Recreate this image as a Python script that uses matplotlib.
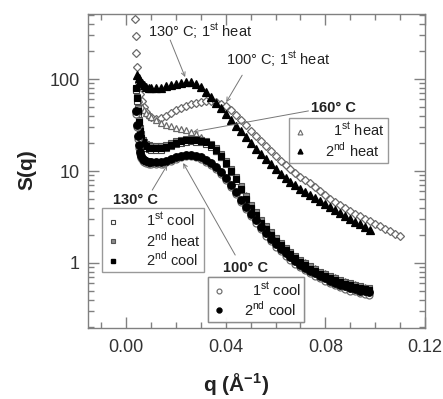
import matplotlib
matplotlib.use("Agg")
import matplotlib.pyplot as plt
from matplotlib.lines import Line2D
from matplotlib.ticker import FixedLocator, MultipleLocator, LogLocator, NullFormatter

plt.rcParams['font.family'] = ['Liberation Sans', 'DejaVu Sans']
plt.rcParams['mathtext.fontset'] = 'custom'
plt.rcParams['mathtext.rm'] = 'Liberation Sans'
plt.rcParams['mathtext.bf'] = 'Liberation Sans:bold'

# ---- data: q (1/A), S(q) ----
# 100 C, 1st heat (open diamonds)
q_d = [0.0036, 0.0038, 0.0040, 0.0044, 0.0050, 0.0056, 0.0062, 0.0070, 0.0080, 0.0090, 0.0100,
       0.012, 0.014, 0.016, 0.018, 0.020, 0.022, 0.024, 0.026, 0.028, 0.030,
       0.032, 0.034, 0.036, 0.038, 0.040, 0.042, 0.044, 0.046, 0.048, 0.050,
       0.052, 0.054, 0.056, 0.058, 0.060, 0.062, 0.064, 0.066, 0.068, 0.070,
       0.072, 0.074, 0.076, 0.078, 0.080, 0.082, 0.084, 0.086, 0.088, 0.090,
       0.092, 0.094, 0.096, 0.098, 0.100, 0.102, 0.104, 0.106, 0.108, 0.110]
s_d = [450, 290, 190, 135, 90, 68, 57, 50, 44, 40, 38.5,
       37, 37.5, 39.5, 42.5, 45.5, 48.5, 51.5, 54, 55.5, 56.5,
       57, 57, 56, 54, 51, 46, 41, 36, 31.5, 27.5,
       24, 21, 18.5, 16.3, 14.5, 12.9, 11.6, 10.5, 9.5, 8.7,
       8.0, 7.35, 6.7, 6.05, 5.45, 5.0, 4.6, 4.25, 3.95, 3.7,
       3.45, 3.22, 3.02, 2.83, 2.66, 2.5, 2.35, 2.2, 2.07, 1.95]

# 160 C, 1st heat (open triangles)
q_t1 = [0.0044, 0.0050, 0.0056, 0.0062, 0.0070, 0.0080, 0.0090, 0.0100,
        0.012, 0.014, 0.016, 0.018, 0.020, 0.022, 0.024, 0.026, 0.028, 0.030,
        0.032, 0.034, 0.036, 0.038, 0.040, 0.044, 0.048, 0.052, 0.056, 0.060,
        0.064, 0.068, 0.072, 0.076, 0.080, 0.084, 0.088, 0.092, 0.096]
s_t1 = [70, 60, 54, 50, 46, 43, 40.5, 38.5,
        35.5, 33.3, 31.8, 30.6, 29.6, 28.6, 27.6, 26.5, 25.1, 23.3,
        21.0, 18.6, 16.3, 14.2, 12.4, 8.6, 5.5, 3.6, 2.5, 1.85,
        1.45, 1.2, 1.02, 0.88, 0.78, 0.7, 0.64, 0.59, 0.55]

# 160 C, 2nd heat (filled triangles) - top curve
q_t2 = [0.0044, 0.0050, 0.0056, 0.0062, 0.0070, 0.0080, 0.0090, 0.0100,
        0.012, 0.014, 0.016, 0.018, 0.020, 0.022, 0.024, 0.026, 0.028, 0.030,
        0.032, 0.034, 0.036, 0.038, 0.040, 0.042, 0.044, 0.046, 0.048, 0.050,
        0.052, 0.054, 0.056, 0.058, 0.060, 0.062, 0.064, 0.066, 0.068, 0.070,
        0.072, 0.074, 0.076, 0.078, 0.080, 0.082, 0.084, 0.086, 0.088, 0.090,
        0.092, 0.094, 0.096, 0.098]
s_t2 = [110, 102, 95, 90, 86, 82, 80, 79,
        79, 80.5, 83, 86, 89, 91.5, 93, 92, 88, 81,
        72, 63, 55, 48, 41.5, 36, 31, 27, 23.5, 20.2,
        17.5, 15.3, 13.4, 11.8, 10.4, 9.3, 8.4, 7.6, 7.0, 6.45,
        5.95, 5.5, 5.1, 4.7, 4.35, 4.05, 3.75, 3.5, 3.25, 3.02,
        2.82, 2.63, 2.45, 2.28]

# lower curves (130 C squares, 100 C circles)
q_lo = [0.0040, 0.0044, 0.0048, 0.0052, 0.0056, 0.0060, 0.0066, 0.0072, 0.0080, 0.0090, 0.0100,
        0.012, 0.014, 0.016, 0.018, 0.020, 0.022, 0.024, 0.026, 0.028, 0.030,
        0.032, 0.034, 0.036, 0.038, 0.040, 0.042, 0.044, 0.046, 0.048, 0.050,
        0.052, 0.054, 0.056, 0.058, 0.060, 0.062, 0.064, 0.066, 0.068, 0.070,
        0.072, 0.074, 0.076, 0.078, 0.080, 0.082, 0.084, 0.086, 0.088, 0.090,
        0.092, 0.094, 0.096, 0.0975]
s_130_cool1 = [76, 58, 42, 32, 25.5, 22, 19.6, 18.5, 17.8, 17.3, 17.1,
               16.9, 17.1, 17.6, 18.5, 19.5, 20.3, 20.9, 21.1, 20.9, 20.5,
               19.8, 18.4, 16.4, 14.1, 11.8, 9.7, 7.8, 6.2, 4.85, 3.9,
               3.2, 2.68, 2.28, 1.95, 1.7, 1.5, 1.34, 1.2, 1.09, 0.99,
               0.91, 0.85, 0.79, 0.74, 0.7, 0.66, 0.63, 0.6, 0.58, 0.56,
               0.54, 0.52, 0.51, 0.5]
s_130_heat2 = [78, 64, 48, 36, 29, 25, 22, 20.5, 19.6, 19.0, 18.8,
               18.6, 18.8, 19.3, 20.1, 21.0, 21.8, 22.3, 22.4, 22.2, 21.7,
               21.0, 19.6, 17.6, 15.2, 12.9, 10.6, 8.5, 6.8, 5.4, 4.3,
               3.55, 2.95, 2.5, 2.15, 1.87, 1.65, 1.47, 1.32, 1.19, 1.08,
               0.99, 0.92, 0.86, 0.8, 0.76, 0.72, 0.68, 0.65, 0.62, 0.6,
               0.58, 0.56, 0.54, 0.53]
s_130_cool2 = [80, 62, 45, 34, 27, 23, 20.5, 19.2, 18.5, 18.0, 17.8,
               17.6, 17.8, 18.3, 19.2, 20.2, 21.0, 21.6, 21.8, 21.6, 21.2,
               20.5, 19.0, 17.0, 14.6, 12.3, 10.1, 8.1, 6.4, 5.0, 4.0,
               3.3, 2.75, 2.35, 2.0, 1.75, 1.55, 1.38, 1.24, 1.12, 1.02,
               0.94, 0.87, 0.81, 0.76, 0.72, 0.68, 0.65, 0.62, 0.59, 0.57,
               0.55, 0.53, 0.52, 0.51]
s_100_cool1 = [42, 30, 22.5, 18, 15.2, 13.8, 13.0, 12.5, 12.2, 12.0, 11.9,
               11.8, 12.0, 12.4, 13.0, 13.6, 14.1, 14.4, 14.4, 14.1, 13.5,
               12.6, 11.6, 10.4, 9.2, 7.9, 6.7, 5.6, 4.6, 3.85, 3.25,
               2.74, 2.32, 1.98, 1.72, 1.51, 1.34, 1.2, 1.08, 0.98, 0.9,
               0.83, 0.77, 0.72, 0.68, 0.64, 0.6, 0.57, 0.55, 0.52, 0.5,
               0.49, 0.47, 0.46, 0.45]
s_100_cool2 = [45, 32, 24, 19, 16, 14.5, 13.6, 13.1, 12.8, 12.6, 12.5,
               12.4, 12.6, 13.0, 13.6, 14.2, 14.7, 15.0, 15.0, 14.7, 14.1,
               13.2, 12.2, 11.0, 9.7, 8.4, 7.1, 5.9, 4.9, 4.1, 3.45,
               2.9, 2.45, 2.1, 1.82, 1.6, 1.42, 1.27, 1.15, 1.04, 0.95,
               0.88, 0.82, 0.77, 0.72, 0.68, 0.64, 0.61, 0.58, 0.56, 0.54,
               0.52, 0.5, 0.49, 0.48]

xticks = [0.00, 0.04, 0.08, 0.12]
xticklabels = ["0.00", "0.04", "0.08", "0.12"]
yticks = [1, 10, 100]
yticklabels = ["1", "10", "100"]

grey = '#6a6a6a'
fig = plt.figure(figsize=(4.43, 3.99), dpi=100)
ax = fig.add_axes([88 / 443, 1 - 328 / 399, 337 / 443, 314 / 399])

ms = 5
ax.plot(q_d, s_d, ls='none', marker='D', ms=4.2, mfc='white', mec=grey, mew=0.9)
ax.plot(q_t1, s_t1, ls='none', marker='^', ms=ms, mfc='white', mec=grey, mew=0.9)
ax.plot(q_t2, s_t2, ls='none', marker='^', ms=ms + 1, mfc='black', mec='black', mew=0.9)
ax.plot(q_lo, s_130_heat2, ls='none', marker='s', ms=ms, mfc='#8a8a8a', mec='#555555', mew=0.8)
ax.plot(q_lo, s_130_cool1, ls='none', marker='s', ms=ms, mfc='white', mec='#444444', mew=0.8)
ax.plot(q_lo, s_130_cool2, ls='none', marker='s', ms=ms - 0.5, mfc='black', mec='black', mew=0.8)
ax.plot(q_lo, s_100_cool1, ls='none', marker='o', ms=ms, mfc='white', mec=grey, mew=0.9)
ax.plot(q_lo, s_100_cool2, ls='none', marker='o', ms=ms + 0.5, mfc='black', mec='black', mew=0.8)

ax.set_xlim(-0.0153, 0.12)
ax.set_yscale('log')
ax.set_ylim(0.1965, 509)

ax.xaxis.set_major_locator(FixedLocator(xticks))
ax.set_xticklabels(xticklabels)
ax.xaxis.set_minor_locator(MultipleLocator(0.01))
ax.yaxis.set_major_locator(FixedLocator(yticks))
ax.set_yticklabels(yticklabels)
ax.yaxis.set_minor_locator(LogLocator(base=10, subs=[2, 3, 4, 5, 6, 7, 8, 9]))
ax.yaxis.set_minor_formatter(NullFormatter())

for sp in ax.spines.values():
    sp.set_color('#808080')
    sp.set_linewidth(1.0)
ax.tick_params(which='both', direction='in', top=True, right=True, color='#808080', width=1.0)
ax.tick_params(which='major', length=8, labelsize=13, labelcolor='#333333')
ax.tick_params(axis='y', which='major', pad=6)
ax.tick_params(axis='x', which='major', pad=8)
ax.tick_params(which='minor', length=4.5)

fig.text(27 / 443, 1 - 170 / 399, 'S(q)', rotation=90, fontsize=15, fontweight='bold',
         color='#222222', ha='center', va='center')
fig.text(236 / 443, 1 - 385 / 399, r'q (Å$^{\mathbf{-1}}$)', fontsize=15, fontweight='bold',
         color='#222222', ha='center', va='center')

# annotations
arr = dict(arrowstyle='->', color='#777777', lw=0.7, mutation_scale=7, shrinkA=0, shrinkB=0)
tfs = 10.5
ax.text(0.0088, 324, r'130° C; 1$^{\rm st}$ heat', fontsize=tfs, color='#222222', va='center')
ax.annotate('', xy=(0.0237, 105), xytext=(0.0177, 265), arrowprops=arr)
ax.text(0.0402, 161, r'100° C; 1$^{\rm st}$ heat', fontsize=tfs, color='#222222', va='center')
ax.annotate('', xy=(0.0402, 56), xytext=(0.0466, 110), arrowprops=arr)
ax.text(0.0744, 48.4, '160° C', fontsize=tfs, fontweight='bold', color='#222222', va='center')
ax.annotate('', xy=(0.0269, 26.6), xytext=(0.0732, 45), arrowprops=arr)
ax.text(-0.0052, 4.8, '130° C', fontsize=tfs, fontweight='bold', color='#222222', va='center')
ax.annotate('', xy=(0.0165, 11.6), xytext=(0.0105, 6.2), arrowprops=arr)
ax.text(0.039, 0.88, '100° C', fontsize=tfs, fontweight='bold', color='#222222', va='center')
ax.annotate('', xy=(0.0229, 12.2), xytext=(0.0438, 1.22), arrowprops=arr)


def make_legend(handles, labels, anchor):
    leg = ax.legend(handles, labels, loc='upper left', bbox_to_anchor=anchor,
                    bbox_transform=ax.transAxes, borderaxespad=0, fancybox=False,
                    frameon=True, fontsize=tfs, handlelength=1.0, handletextpad=1.2,
                    labelspacing=0.05, borderpad=0.25, edgecolor='#808080')
    leg.get_frame().set_linewidth(1.0)
    for t in leg.get_texts():
        t.set_color('#222222')
    ax.add_artist(leg)
    return leg


h_t1 = Line2D([], [], ls='none', marker='^', ms=3.5, mfc='white', mec=grey, mew=0.8)
h_t2 = Line2D([], [], ls='none', marker='^', ms=3.5, mfc='black', mec='black')
make_legend([h_t1, h_t2], [r'  1$^{\rm st}$ heat', r'2$^{\rm nd}$ heat'], (0.596, 0.669))

h_s1 = Line2D([], [], ls='none', marker='s', ms=3.5, mfc='white', mec='#444444', mew=0.8)
h_s2 = Line2D([], [], ls='none', marker='s', ms=3.5, mfc='#8a8a8a', mec='#555555', mew=0.8)
h_s3 = Line2D([], [], ls='none', marker='s', ms=3.5, mfc='black', mec='black')
make_legend([h_s1, h_s2, h_s3],
            [r'  1$^{\rm st}$ cool', r'  2$^{\rm nd}$ heat', r'  2$^{\rm nd}$ cool'],
            (0.0415, 0.382))

h_c1 = Line2D([], [], ls='none', marker='o', ms=3.5, mfc='white', mec=grey, mew=0.8)
h_c2 = Line2D([], [], ls='none', marker='o', ms=3.5, mfc='black', mec='black')
make_legend([h_c1, h_c2], [r'  1$^{\rm st}$ cool', r'2$^{\rm nd}$ cool'], (0.356, 0.162))

fig.savefig('out.png', dpi=100)
